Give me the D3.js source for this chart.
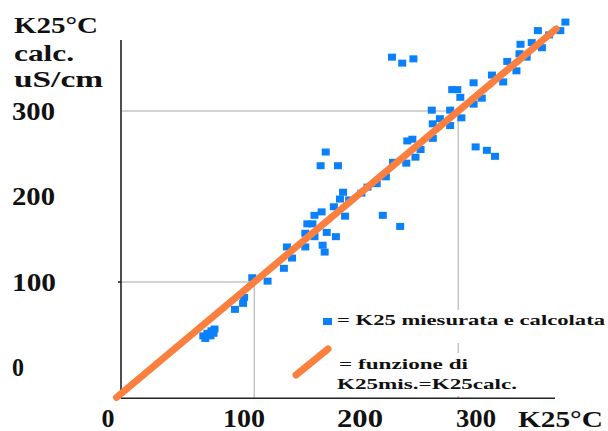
<!DOCTYPE html>
<html><head><meta charset="utf-8">
<script src="https://cdn.jsdelivr.net/npm/d3@7"></script>
</head><body style="margin:0">
<svg id="c" width="608" height="431" style="display:block;background:#fff"></svg>
<script>
// measured values (K25 measured on x, K25 calculated on y, uS/cm)
const measured = [50,54,58,61,52,57,60,81,89,90,98,113,129,137,132,150,150,152,157,159,159,166,167,169,171,180,178,184,187,189,193,170,165,182,205,211,220,226,243,229,236,249,235,245,256,250,255,258,263,275,275,282,274,292,292,303,294,299,302,315,315,323,317,328,336,333,344,348,357,361,360,367,372,382,378,389,400,405];
const calculated = [37,40,43,45,34,37,40,68,75,82,105,101,116,128,141,141,157,168,168,153,178,182,143,135,158,153,188,197,205,177,196,252,236,236,204,211,215,178,165,223,240,239,363,356,361,265,267,246,255,268,285,291,301,301,283,292,325,325,316,333,308,315,258,254,247,342,334,358,347,378,367,363,380,374,394,389,394,404];
const yTicks = [0,100,200,300];
const xTicks = [0,100,200,300];
const yTitle = ["K25°C","calc.","uS/cm"];
const xTitle = "K25°C";
const legendPoints = "= K25 miesurata e calcolata";
const legendLine = ["= funzione di","K25mis.=K25calc."];
const identity = [-35,396];
const guides = [100,300];

const svg = d3.select("#c");
const x = d3.scaleLinear().domain([0,300]).range([152.3,458.3]);
const y = d3.scaleLinear().domain([0,300]).range([367.5,111]);
const xLabel = d3.scaleLinear().domain(xTicks).range([108,244,360,476]);
const axisX0 = 121, axisY0 = 398.3, axisXEnd = 555, axisYTop = 40;
const blue = "#0a80fb", orange = "#fb8040";

// guide lines
const g = svg.append("g").attr("stroke","#c4c4c4").attr("stroke-width",1.5).attr("fill","none");
guides.forEach(v=>{
  g.append("line").attr("x1",axisX0).attr("x2",x(v)).attr("y1",y(v)).attr("y2",y(v));
  g.append("line").attr("x1",x(v)).attr("x2",x(v)).attr("y1",y(v)).attr("y2",axisY0);
});
// legend backgrounds
svg.append("rect").attr("x",318).attr("y",310).attr("width",290).attr("height",33).attr("fill","#fff");
svg.append("rect").attr("x",290).attr("y",353).attr("width",240).attr("height",43).attr("fill","#fff");

// points
svg.append("g").selectAll("rect").data(measured.map((m,i)=>[m,calculated[i]])).join("rect")
  .attr("x",d=>x(d[0])-4).attr("y",d=>y(d[1])-3.5).attr("width",8).attr("height",7).attr("fill",blue);

// axes
const ax = svg.append("g").attr("stroke","#222").attr("stroke-width",1.6);
ax.append("line").attr("x1",axisX0).attr("x2",axisX0).attr("y1",axisYTop).attr("y2",axisY0);
ax.append("line").attr("x1",axisX0).attr("x2",axisXEnd).attr("y1",axisY0).attr("y2",axisY0);
ax.append("line").attr("x1",axisX0-3).attr("x2",axisX0).attr("y1",y(100)).attr("y2",y(100));

// identity line
svg.append("line").attr("x1",x(identity[0])).attr("y1",y(identity[0])).attr("x2",x(identity[1])).attr("y2",y(identity[1]))
  .attr("stroke",orange).attr("stroke-width",7).attr("stroke-linecap","round");

// text helper
function txt(s, px, py, size, w, weight){
  return svg.append("text").attr("x",px).attr("y",py)
    .attr("font-family","Liberation Serif").attr("font-size",size).attr("font-weight",weight)
    .attr("fill","#111").attr("textLength",w).attr("lengthAdjust","spacingAndGlyphs").text(String(s));
}
const yW = {"0":12,"100":44,"200":43,"300":43};
yTicks.forEach(v=>txt(v, 12, y(v)+8.5, 25, yW[v], "bold"));
const xW = {"0":13,"100":42,"200":46,"300":40};
xTicks.forEach(v=>txt(v, xLabel(v)-xW[v]/2, 427, 25, xW[v], "bold"));
const tW = [84,60,89], tY = [33,61,87];
yTitle.forEach((s,i)=>txt(s, 14, tY[i], 24, tW[i], "bold"));
txt(xTitle, 518, 427, 24, 85, "bold");

// legend
svg.append("rect").attr("x",323).attr("y",318).attr("width",9).attr("height",7).attr("fill",blue);
txt(legendPoints, 337, 325, 14, 268, "bold");
svg.append("line").attr("x1",296).attr("y1",375).attr("x2",328).attr("y2",349)
  .attr("stroke",orange).attr("stroke-width",7).attr("stroke-linecap","round");
const lW = [129,180], lY = [369,389];
legendLine.forEach((s,i)=>txt(s, i?337:339, lY[i], 14, lW[i], "bold"));
</script>
</body></html>
